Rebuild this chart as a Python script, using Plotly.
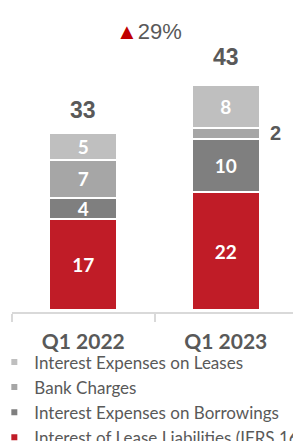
import plotly.graph_objects as go

categories = ["Q1 2022", "Q1 2023"]
series_names = [
    "Interest of Lease Liabilities (IFRS 16)",
    "Interest Expenses on Borrowings",
    "Bank Charges",
    "Interest Expenses on Leases",
]
lease_liab = [17, 22]
borrowings = [4, 10]
bank_charges = [7, 2]
leases = [5, 8]
totals = [33, 43]
growth_label = "29%"

series_values = [lease_liab, borrowings, bank_charges, leases]
colors = ["#C01C27", "#7F7F7F", "#A6A6A6", "#BFBFBF"]

fig = go.Figure()
for name, vals, col in zip(series_names, series_values, colors):
    texts = [str(v) if v >= 3 else "" for v in vals]
    fig.add_trace(go.Bar(
        x=categories, y=vals, name=name, showlegend=False,
        marker=dict(color=col, line=dict(color="white", width=2)),
        text=texts, textposition="inside", insidetextanchor="middle",
        textangle=0, constraintext="none",
        textfont=dict(family="Lato", size=19, color="white", weight="bold"),
        hoverinfo="skip",
    ))
    fig.add_trace(go.Scatter(
        x=[None], y=[None], mode="markers", name=name,
        marker=dict(symbol="square", size=6, color=col),
    ))

# totals
for c, t in zip(categories, totals):
    fig.add_annotation(x=c, y=t, text=str(t), showarrow=False, yanchor="bottom",
                       yshift=8, font=dict(family="Liberation Sans", size=23,
                                           color="#595959", weight="bold"))

# small segment label outside
for i, c in enumerate(categories):
    v = bank_charges[i]
    if v < 3:
        base = lease_liab[i] + borrowings[i]
        fig.add_annotation(x=c, y=base + v / 2, text=str(v), showarrow=False,
                           xanchor="left", xshift=42,
                           font=dict(family="Liberation Sans", size=20,
                                     color="#595959", weight="bold"))

fig.add_annotation(xref="paper", x=0.48, y=52, text="<span style='color:#C00000'>▲</span>" + growth_label,
                   showarrow=False, font=dict(family="Liberation Sans", size=22, color="#595959"))

fig.update_layout(
    width=293, height=433,
    margin=dict(l=4, r=4, t=12, b=129, autoexpand=False),
    barmode="stack", bargap=0.52,
    plot_bgcolor="white", paper_bgcolor="white",
    showlegend=True,
    legend=dict(traceorder="reversed", orientation="v", xref="paper", x=-0.062, xanchor="left",
                yref="container", y=0.223, yanchor="top",
                font=dict(family="Lato", size=17, color="#595959"),
                itemwidth=30, tracegroupgap=0, bgcolor="rgba(0,0,0,0)"),
    xaxis=dict(showline=True, linecolor="#D9D9D9", linewidth=2, ticks="outside",
               tickson="boundaries", ticklen=8, tickcolor="#D9D9D9", tickwidth=2,
               ticklabelstandoff=10,
               tickfont=dict(family="Lato", size=21, color="#595959", weight="bold"),
               showgrid=False, fixedrange=True),
    yaxis=dict(range=[-0.37, 54.2], visible=False, showgrid=False, fixedrange=True),
)

fig.write_html("out.html")
